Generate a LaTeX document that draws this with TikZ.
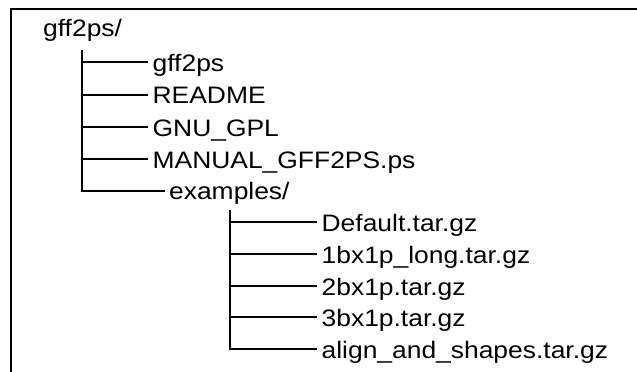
\documentclass[tikz,border=0pt]{standalone}
\usepackage{fontspec}
\setmainfont{Liberation Sans}
\tikzset{
  entry/.style={anchor=west, inner xsep=4pt, inner ysep=0pt,
    text height=18.8pt, text depth=0pt, xscale=1.11,
    font=\fontsize{23.8}{28}\selectfont},
  branch/.style={line width=2pt},
}
\begin{document}
\begin{tikzpicture}[x=1pt, y=-1pt]
  \useasboundingbox (0,0) rectangle (637,372);
  % Frame
  \draw[line width=2pt] (11,372) -- (11,9) -- (637,9);
  % Top directory
  \node[entry] (root) at (38.5,27.3) {gff2ps/};
  \coordinate (trunkA) at (82,50);
  \foreach \name/\txt [count=\i] in {bin/gff2ps, readme/README, gpl/GNU\_GPL, manual/MANUAL\_GFF2PS.ps} {
    \node[entry] (\name) at (148,30.1+32.2*\i) {\txt};
    \draw[branch] (trunkA |- \name.west) -- (\name.west);
  }
  \node[entry] (examples) at (164.5,190.5) {examples/};
  \draw[branch] (trunkA) |- (examples.west);
  % Sub directory
  \coordinate (trunkB) at (230,210);
  \foreach \name/\txt [count=\i] in {default/Default.tar.gz, long/1bx1p\_long.tar.gz, two/2bx1p.tar.gz, three/3bx1p.tar.gz} {
    \node[entry] (\name) at (317,190.2+31.8*\i) {\txt};
    \draw[branch] (trunkB |- \name.west) -- (\name.west);
  }
  \node[entry] (shapes) at (317,349) {align\_and\_shapes.tar.gz};
  \draw[branch] (trunkB) |- (shapes.west);
\end{tikzpicture}
\end{document}
